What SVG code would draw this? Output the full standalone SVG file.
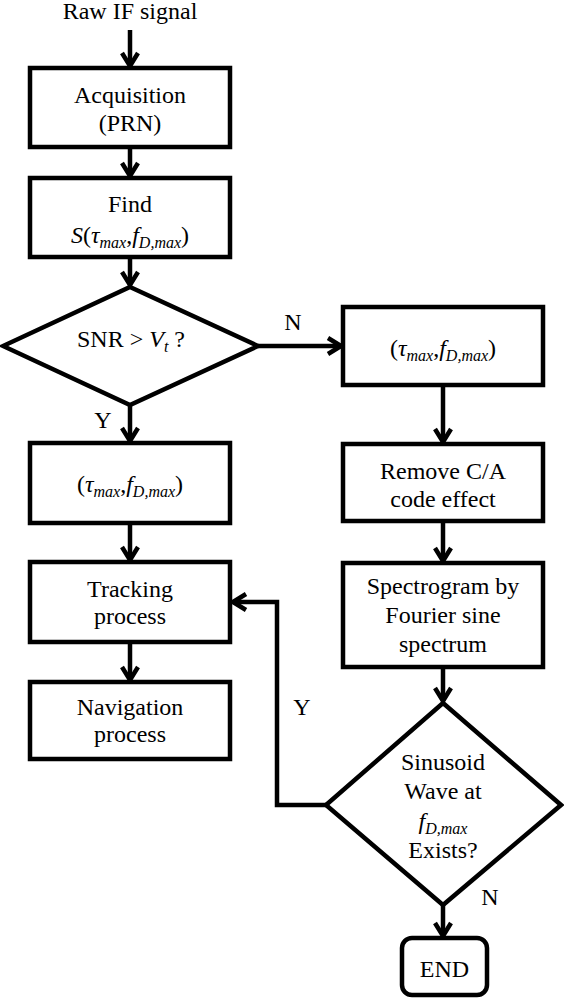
<svg xmlns="http://www.w3.org/2000/svg" width="564" height="1000" viewBox="0 0 564 1000">
<style>
  .box{fill:#fff;stroke:#000;stroke-width:4.5;stroke-linejoin:miter}
  .ln{fill:none;stroke:#000;stroke-width:4.5}
  .t{font-family:"Liberation Serif","Times New Roman",serif;font-size:24px;text-anchor:middle;fill:#000}
  .i{font-style:italic}
  .sub{font-style:italic;font-size:16px}
</style>
<defs>
  <marker id="ah" markerUnits="userSpaceOnUse" viewBox="-18 -12 22 24" markerWidth="22" markerHeight="24" refX="0" refY="0" orient="auto">
    <path d="M-13,-8 L0,0 L-13,8" fill="none" stroke="#000" stroke-width="4.5" stroke-linejoin="miter"/>
  </marker>
</defs>
<rect width="564" height="1000" fill="#fff"/>

<g id="connectors">
  <path class="ln" d="M130,30 L130,66" marker-end="url(#ah)"/>
  <path class="ln" d="M130,147 L130,176" marker-end="url(#ah)"/>
  <path class="ln" d="M130,257 L130,285" marker-end="url(#ah)"/>
  <path class="ln" d="M258,346 L341,346" marker-end="url(#ah)"/>
  <path class="ln" d="M130,405 L130,441" marker-end="url(#ah)"/>
  <path class="ln" d="M443,385 L443,442" marker-end="url(#ah)"/>
  <path class="ln" d="M130,523 L130,560" marker-end="url(#ah)"/>
  <path class="ln" d="M130,642 L130,680" marker-end="url(#ah)"/>
  <path class="ln" d="M443,521 L443,561" marker-end="url(#ah)"/>
  <path class="ln" d="M443,667 L443,701" marker-end="url(#ah)"/>
  <path class="ln" d="M326,805 L277,805 L277,602 L233,602" marker-end="url(#ah)"/>
  <path class="ln" d="M443,905 L443,936" marker-end="url(#ah)"/>
  <text class="t" x="293" y="330">N</text>
  <text class="t" x="103" y="428">Y</text>
  <text class="t" x="302" y="715">Y</text>
  <text class="t" x="490" y="905">N</text>
</g>

<g id="raw">
  <text class="t" x="130" y="19">Raw IF signal</text>
</g>

<g id="acq">
  <rect class="box" x="30" y="68" width="200" height="79"/>
  <text class="t" x="130" y="103">Acquisition</text>
  <text class="t" x="130" y="131">(PRN)</text>
</g>

<g id="find">
  <rect class="box" x="30" y="178" width="200" height="79"/>
  <text class="t" x="130" y="212">Find</text>
  <text class="t" x="130" y="243"><tspan class="i">S</tspan>(<tspan class="i">τ</tspan><tspan class="sub" dy="5">max</tspan><tspan dy="-5">,</tspan><tspan class="i">f</tspan><tspan class="sub" dy="5">D,max</tspan><tspan dy="-5">)</tspan></text>
</g>

<g id="snr">
  <polygon class="box" points="130,287 258,346 130,405 3,346"/>
  <text class="t" x="131" y="347">SNR &gt; <tspan class="i">V</tspan><tspan class="sub" dy="5">t</tspan><tspan dy="-5"> ?</tspan></text>
</g>

<g id="tau-left">
  <rect class="box" x="30" y="443" width="200" height="80"/>
  <text class="t" x="130" y="492">(<tspan class="i">τ</tspan><tspan class="sub" dy="5">max</tspan><tspan dy="-5">,</tspan><tspan class="i">f</tspan><tspan class="sub" dy="5">D,max</tspan><tspan dy="-5">)</tspan></text>
</g>

<g id="tracking">
  <rect class="box" x="30" y="562" width="200" height="80"/>
  <text class="t" x="130" y="597">Tracking</text>
  <text class="t" x="130" y="624">process</text>
</g>

<g id="navigation">
  <rect class="box" x="30" y="682" width="200" height="77"/>
  <text class="t" x="130" y="715">Navigation</text>
  <text class="t" x="130" y="742">process</text>
</g>

<g id="tau-right">
  <rect class="box" x="343" y="307" width="200" height="78"/>
  <text class="t" x="443" y="356">(<tspan class="i">τ</tspan><tspan class="sub" dy="5">max</tspan><tspan dy="-5">,</tspan><tspan class="i">f</tspan><tspan class="sub" dy="5">D,max</tspan><tspan dy="-5">)</tspan></text>
</g>

<g id="remove">
  <rect class="box" x="343" y="444" width="200" height="77"/>
  <text class="t" x="443" y="479">Remove C/A</text>
  <text class="t" x="443" y="507">code effect</text>
</g>

<g id="spectrogram">
  <rect class="box" x="343" y="563" width="200" height="104"/>
  <text class="t" x="443" y="594">Spectrogram by</text>
  <text class="t" x="443" y="623">Fourier sine</text>
  <text class="t" x="443" y="652">spectrum</text>
</g>

<g id="sinusoid">
  <polygon class="box" points="443,703 561,805 443,905 326,805"/>
  <text class="t" x="443" y="770">Sinusoid</text>
  <text class="t" x="443" y="799">Wave at</text>
  <text class="t" x="443" y="829"><tspan class="i">f</tspan><tspan class="sub" dy="5">D,max</tspan></text>
  <text class="t" x="443" y="858">Exists?</text>
</g>

<g id="end">
  <rect class="box" x="402" y="938" width="85" height="57" rx="10" ry="10"/>
  <text class="t" x="444.5" y="977">END</text>
</g>
</svg>
